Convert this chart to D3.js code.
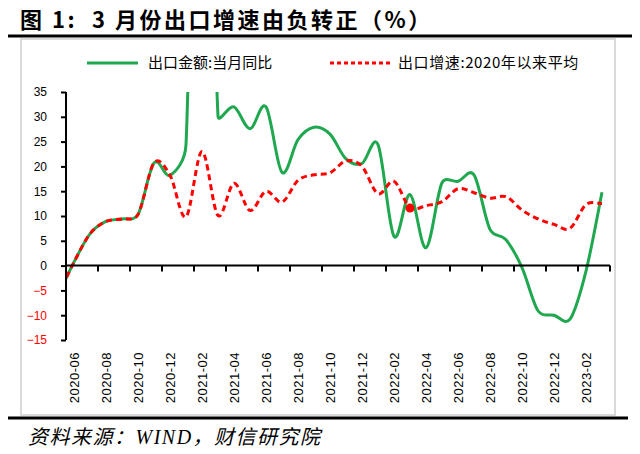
<!DOCTYPE html>
<html><head><meta charset="utf-8">
<script src="https://cdn.jsdelivr.net/npm/d3@7"></script>
<style>body{margin:0;background:#fff}svg{display:block}</style>
</head><body>
<svg id="c" width="640" height="454"></svg>
<script>
// Months from 2020-05 (first point lies left of the plot and is clipped) to 2023-03
const months = ["2020-05","2020-06","2020-07","2020-08","2020-09","2020-10","2020-11","2020-12",
"2021-01","2021-02","2021-03","2021-04","2021-05","2021-06","2021-07","2021-08","2021-09","2021-10","2021-11","2021-12",
"2022-01","2022-02","2022-03","2022-04","2022-05","2022-06","2022-07","2022-08","2022-09","2022-10","2022-11","2022-12",
"2023-01","2023-02","2023-03"];
const exportYoY = [-6.0,0.7,6.4,8.9,9.4,10.3,20.7,18.2,
24.4,150,30.2,32.0,27.6,32.0,18.8,25.4,27.9,26.5,21.5,20.6,
24.4,5.9,14.3,3.6,16.7,17.0,18.3,7.3,5.2,-0.4,-9.1,-10.0,
-10.8,-1.1,14.8];
const exportAvg = [-6.0,0.7,6.4,8.9,9.4,10.3,20.7,18.2,
9.8,23.0,10.1,16.6,11.1,15.0,12.8,17.2,18.3,18.7,21.1,20.0,
14.5,17.0,11.6,12.1,12.9,15.5,14.7,13.6,13.9,11.2,9.4,8.3,
7.5,12.3,12.5];
const xTickLabels = ["2020-06","2020-08","2020-10","2020-12","2021-02","2021-04","2021-06","2021-08","2021-10","2021-12",
"2022-02","2022-04","2022-06","2022-08","2022-10","2022-12","2023-02"];
const yTicks = [-15,-10,-5,0,5,10,15,20,25,30,35];
const legendNames = ["出口金额:当月同比","出口增速:2020年以来平均"];
const titleText = "图 1:  3 月份出口增速由负转正（%）";
const sourceText = "资料来源：WIND，财信研究院";
const markerMonth = "2022-03";

// Spreadsheet-style smoothed line: Catmull-Rom Bezier with control offsets capped at half the segment length
function SmoothCurve(context) { this._context = context; }
SmoothCurve.prototype = {
  areaStart() {}, areaEnd() {},
  lineStart() { this._pts = []; },
  point(x, y) { this._pts.push([+x, +y]); },
  lineEnd() {
    const p = this._pts, c = this._context, n = p.length;
    if (!n) return;
    c.moveTo(p[0][0], p[0][1]);
    const ctrl = (A, B, C, D, sign) => {
      // tangent at B from A->C, limited by |D-B|/2
      let tx = (C[0] - A[0]) / 6, ty = (C[1] - A[1]) / 6;
      const len = Math.hypot(tx, ty), lim = Math.hypot(D[0] - B[0], D[1] - B[1]) / 2;
      if (len > lim && len > 0) { tx *= lim / len; ty *= lim / len; }
      return [B[0] + sign * tx, B[1] + sign * ty];
    };
    for (let i = 0; i < n - 1; i++) {
      const P0 = p[i - 1] || p[i], P1 = p[i], P2 = p[i + 1], P3 = p[i + 2] || p[i + 1];
      const c1 = ctrl(P0, P1, P2, P2, 1);
      const c2 = ctrl(P1, P2, P3, P1, -1);
      c.bezierCurveTo(c1[0], c1[1], c2[0], c2[1], P2[0], P2[1]);
    }
  }
};
const smoothCurve = ctx => new SmoothCurve(ctx);

const svg = d3.select("#c");
const L = 66, R = 610, T = 92, B = 340;
const nCat = 34; // 2020-06 .. 2023-03
const xs = d3.scaleLinear().domain([0, nCat]).range([L, R]);
const xOf = i => xs(i - 1 + 0.5); // months[0] = 2020-05 -> index -1
const y = d3.scaleLinear().domain([-15, 35]).range([B, T]);

// title
svg.append("text").attr("x", 20).attr("y", 28).text(titleText)
  .style("white-space", "pre")
  .attr("font-family", "'Noto Sans CJK SC'").attr("font-weight", 700).attr("font-size", 22)
  .attr("letter-spacing", 2.5).attr("fill", "#000");
svg.append("line").attr("x1", 8).attr("x2", 632).attr("y1", 36).attr("y2", 36).attr("stroke", "#000").attr("stroke-width", 3);
// chart box
svg.append("rect").attr("x", 21).attr("y", 39).attr("width", 594).attr("height", 376)
  .attr("fill", "#fff").attr("stroke", "#d9d9d9").attr("stroke-width", 2);
svg.append("line").attr("x1", 8).attr("x2", 628).attr("y1", 418).attr("y2", 418).attr("stroke", "#000").attr("stroke-width", 3);
svg.append("text").attr("x", 28).attr("y", 444).text(sourceText)
  .attr("font-family", "'Liberation Serif','Noto Sans CJK SC'").attr("font-style", "italic").attr("font-size", 20)
  .attr("letter-spacing", 1.5).attr("fill", "#000");

// legend
const lg = svg.append("g");
lg.append("line").attr("x1", 87).attr("x2", 138).attr("y1", 63).attr("y2", 63).attr("stroke", "#1fa84f").attr("stroke-width", 3);
lg.append("text").attr("x", 148).attr("y", 68).text(legendNames[0]).attr("font-family", "'Noto Sans CJK SC'").attr("font-size", 15);
lg.append("line").attr("x1", 330).attr("x2", 390).attr("y1", 63).attr("y2", 63).attr("stroke", "#ff0000").attr("stroke-width", 3).attr("stroke-dasharray", "4,3");
lg.append("text").attr("x", 398).attr("y", 68).text(legendNames[1]).attr("font-family", "'Noto Sans CJK SC'").attr("font-size", 15)
  .attr("letter-spacing", 0.6);

// clip
svg.append("clipPath").attr("id", "clip").append("rect").attr("x", L).attr("y", T).attr("width", R - L).attr("height", B - T);

const line = d3.line().x((d, i) => xOf(i)).y(d => y(d)).curve(smoothCurve);
const plot = svg.append("g").attr("clip-path", "url(#clip)");
plot.append("path").attr("d", line(exportYoY)).attr("fill", "none").attr("stroke", "#1fa84f").attr("stroke-width", 3);
plot.append("path").attr("d", line(exportAvg)).attr("fill", "none").attr("stroke", "#ff0000").attr("stroke-width", 3).attr("stroke-dasharray", "6,4");
const mi = months.indexOf(markerMonth);
plot.append("circle").attr("cx", xOf(mi)).attr("cy", y(exportAvg[mi])).attr("r", 4.5).attr("fill", "#ff0000");

// y axis
const yAxis = d3.axisLeft(y).tickValues(yTicks).tickSize(5).tickPadding(14).tickFormat(d3.format("d"));
const yg = svg.append("g").attr("transform", `translate(${L},0)`).call(yAxis);
yg.select(".domain").attr("stroke", "#000").attr("stroke-width", 2).attr("d", `M0,${T}V${B}`);
yg.selectAll(".tick line").attr("stroke", "#000").attr("stroke-width", 2);
yg.selectAll(".tick text").attr("font-family", "'Liberation Sans'").attr("font-size", 12)
  .attr("fill", d => d < 0 ? "#ff0000" : "#000");

// x axis at zero
const xg = svg.append("g").attr("transform", `translate(0,${y(0)})`);
xg.append("line").attr("x1", L).attr("x2", R).attr("stroke", "#000").attr("stroke-width", 2);
const tickIdx = d3.range(0, nCat + 1, 2);
xg.selectAll("line.t").data(tickIdx).join("line").attr("class", "t")
  .attr("x1", d => xs(d)).attr("x2", d => xs(d)).attr("y1", 0).attr("y2", 6).attr("stroke", "#000").attr("stroke-width", 2);
svg.selectAll("text.xl").data(xTickLabels).join("text").attr("class", "xl")
  .attr("transform", (d, i) => `translate(${xs(i * 2 + 0.5) + 4.5},352) rotate(-90)`)
  .attr("text-anchor", "end").text(d => d)
  .attr("font-family", "'Liberation Sans'").attr("font-size", 13).attr("letter-spacing", 0.5).attr("fill", "#000");
</script>
</body></html>
